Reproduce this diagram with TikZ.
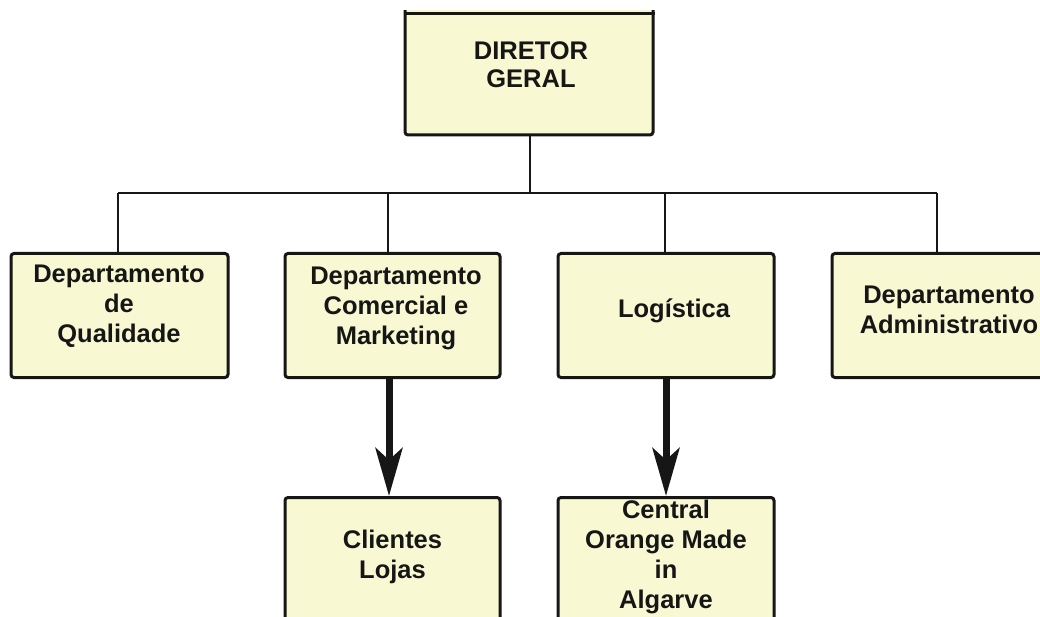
\documentclass[tikz,border=0pt]{standalone}
\usepackage{fontspec}
\setmainfont{Liberation Sans}
\usetikzlibrary{arrows.meta}
\definecolor{boxfill}{RGB}{248,248,210}
\definecolor{ink}{RGB}{22,22,22}
\tikzset{
  unitbox/.style={draw=ink, fill=boxfill, line width=3pt, rounded corners=3pt,
    inner sep=0pt, minimum height=124pt},
  boxtext/.style={align=center, inner sep=0pt, text=ink,
    font=\bfseries\fontsize{25.5}{30}\selectfont},
  link/.style={draw=ink, line width=2.7pt},
  flow/.style={draw=ink, line width=7pt,
    -{Stealth[length=48pt, width=27pt, inset=12pt]}}
}
\begin{document}
\begin{tikzpicture}[x=1pt, y=-1pt]
\useasboundingbox (0,0) rectangle (1040,617);
\clip (0,0) rectangle (1040,617);

% top box, cut off square at its upper edge
\begin{scope}
  \clip (0,11) rectangle (1040,200);
  \node[unitbox, minimum width=248pt, minimum height=136pt] (dir) at (529,67) {};
\end{scope}
\coordinate (topedge) at (0,13.5);
\draw[draw=ink, line width=3pt] (dir.west |- topedge) -- (dir.east |- topedge);

% unit boxes
\node[unitbox, minimum width=217pt] (qual) at (119.5,315.5) {};
\node[unitbox, minimum width=215pt] (com)  at (392.5,315.5) {};
\node[unitbox, minimum width=216pt] (log)  at (666,315.5) {};
\node[unitbox, minimum width=217pt] (adm)  at (940.5,315.5) {};
\node[unitbox, minimum width=215pt] (cli)  at (392.5,559.5) {};
\node[unitbox, minimum width=216pt] (cen)  at (666,559.5) {};

% labels
\node[boxtext, font=\bfseries\fontsize{25.5}{28}\selectfont] (tdir) at (531,65) {DIRETOR\\GERAL};
\node[boxtext] (tqual) at (119,306) {Departamento\\de\\Qualidade};
\node[boxtext] (tcom)  at (396,308.5) {Departamento\\Comercial e\\Marketing};
\node[boxtext] (tlog)  at (674,310.5) {Logística};
\node[boxtext] (tadm)  at (949,309.5) {Departamento\\Administrativo};
\node[boxtext] (tcli)  at (392.5,556.5) {Clientes\\Lojas};
\node[boxtext] (tcen)  at (666,557) {Central\\Orange Made\\in\\Algarve};

% hierarchy bus
\coordinate (bus) at (530,193);
\coordinate (j1) at (118,193);
\coordinate (j2) at (388,193);
\coordinate (j3) at (665,193);
\coordinate (j4) at (937,193);
\draw[link] (dir.south -| bus) -- (bus);
\draw[link] (j1) -- (j4);
\draw[link] (j1) -- (j1 |- qual.north);
\draw[link] (j2) -- (j2 |- com.north);
\draw[link] (j3) -- (j3 |- log.north);
\draw[link] (j4) -- (j4 |- adm.north);

% flows to the lower units
\coordinate (f1) at (389,0);
\coordinate (f2) at (666,0);
\draw[flow] (f1 |- com.south) -- (f1 |- cli.north);
\draw[flow] (f2 |- log.south) -- (f2 |- cen.north);
\end{tikzpicture}
\end{document}
